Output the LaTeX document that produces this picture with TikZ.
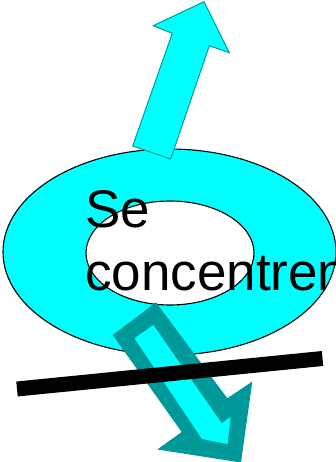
\documentclass[tikz,border=0pt]{standalone}
\usepackage{fontspec}
\setmainfont{Liberation Sans}
\definecolor{aqua}{RGB}{0,255,255}
\definecolor{tealdark}{RGB}{0,153,153}
\begin{document}
\begin{tikzpicture}[x=1pt,y=-1pt,
  ringline/.style={draw=black,line width=1.1pt},
  uparrow/.style={fill=aqua,draw=tealdark,line width=1pt,line join=miter},
  bigtext/.style={anchor=base west,inner sep=0pt,font=\fontsize{53}{60}\selectfont},
  barline/.style={line width=15pt,line cap=butt,draw=black}]
\useasboundingbox (0,0) rectangle (336,462);
\clip (0,0) rectangle (336,462);
% ring
\coordinate (c) at (169.5,252);
\fill[aqua,ringline] (c) ellipse [x radius=166.5pt, y radius=103pt];
\fill[white,ringline] (170,253) ellipse [x radius=84pt, y radius=52pt];
% up arrow
\coordinate (u1) at (132.7,146);
\coordinate (u2) at (170.7,159);
\coordinate (u3) at (209.3,45.7);
\coordinate (u4) at (229.3,52.7);
\coordinate (u5) at (204,1.7);
\coordinate (u6) at (153.3,25.7);
\coordinate (u7) at (172.3,33.3);
\path[uparrow] (u1) -- (u2) -- (u3) -- (u4) -- (u5) -- (u6) -- (u7) -- cycle;
% text
\node[bigtext] (t1) at (85,227) {Se};
\node[bigtext] (t2) at (85,290) {concentren};
% down arrow (outer teal, inner cyan)
\coordinate (d1) at (156,302.3);
\coordinate (d2) at (112.7,335);
\coordinate (d3) at (181.7,432);
\coordinate (d4) at (157.3,449.5);
\coordinate (d5) at (241,462.5);
\coordinate (d6) at (252.3,381.5);
\coordinate (d7) at (227.3,398.3);
\fill[tealdark] (d1) -- (d2) -- (d3) -- (d4) -- (d5) -- (d6) -- (d7) -- cycle;
\coordinate (i1) at (134.5,338.3);
\coordinate (i2) at (153.3,325);
\coordinate (i3) at (221.7,423.3);
\coordinate (i4) at (230.7,416.7);
\coordinate (i5) at (227.5,444);
\coordinate (i6) at (202,439);
\fill[aqua] (i1) -- (i2) -- (i3) -- (i4) -- (i5) -- (i6) -- cycle;
% black bar
\coordinate (b1) at (17,389);
\coordinate (b2) at (322.5,358.5);
\draw[barline] (b1) -- (b2);
\end{tikzpicture}
\end{document}
